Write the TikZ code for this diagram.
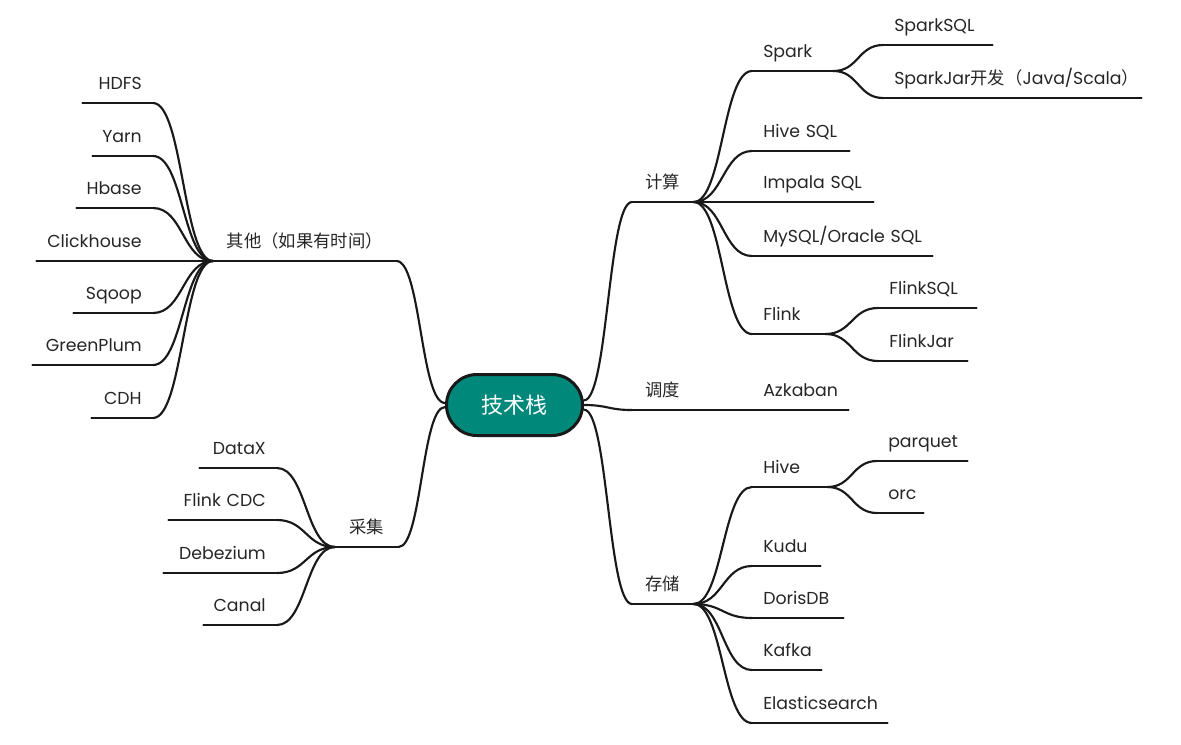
\documentclass[tikz,border=0pt]{standalone}
\usepackage{fontspec}
\setmainfont{Poppins}
\newfontfamily\cjk{Noto Sans CJK SC}
\usepackage{tikz}
\usetikzlibrary{calc}
\definecolor{rootteal}{HTML}{00897B}

\begin{document}
\begin{tikzpicture}[x=0.75pt, y=-0.75pt]
  \tikzset{
    core/.style={
      draw=black!90, line width=2.25pt, fill=rootteal, rounded corners=22.8pt,
      minimum width=102pt, minimum height=45.75pt, inner sep=0pt,
      text=white, font=\cjk\fontsize{16.5}{18}\selectfont
    },
    topic/.style={
      inner xsep=8.25pt, inner ysep=0pt, text height=11pt, text depth=9.75pt,
      font=\fontsize{13}{15}\selectfont, text=black!85
    },
    level/.style={topic, anchor=south west, minimum width=#1},
    rleaf/.style={topic, anchor=south west, text width=#1,
      execute at begin node={\hbox to\hsize\bgroup}, execute at end node={\hss\egroup}},
    lleaf/.style={topic, anchor=south east, text width=#1,
      execute at begin node={\hbox to\hsize\bgroup\hss}, execute at end node={\egroup}},
    branch/.style={draw=black!90, line width=1.6pt, line cap=round},
    link/.style={branch, to path={let \p1=(\tikztostart), \p2=(\tikztotarget) in
      .. controls ({(\x1+\x2)/2},\y1) and ({(\x1+\x2)/2},\y2) .. (\tikztotarget)}}
  }
  \useasboundingbox (0,0) rectangle (1181,744);

  \node[core] (root) at (514.5,405) {技术栈};

  % right side
  \node[level=45.75pt] (jisuan) at (632,202) {\cjk 计算};
  \node[level=45.75pt] (diaodu) at (632,410) {\cjk 调度};
  \node[level=45.75pt] (cunchu) at (632,604) {\cjk 存储};

  \node[rleaf=44.25pt] (spark) at (752,71) {Spark};
  \node[rleaf=65.25pt] (sparksql) at (883,45) {SparkSQL};
  \node[rleaf=177pt] (sparkjar) at (883,98) {SparkJar{\cjk 开发（}Java/Scala{\cjk ）}};
  \node[rleaf=56.25pt] (hivesql) at (752,151) {Hive SQL};
  \node[rleaf=74.25pt] (impala) at (752,202) {Impala SQL};
  \node[rleaf=118.5pt] (mysql) at (752,256) {MySQL/Oracle SQL};
  \node[rleaf=38.25pt] (flink) at (752,334) {Flink};
  \node[rleaf=57pt] (flinksql) at (878,308) {FlinkSQL};
  \node[rleaf=50.25pt] (flinkjar) at (878,361) {FlinkJar};
  \node[rleaf=55.5pt] (azkaban) at (752,410) {Azkaban};
  \node[rleaf=39.75pt] (hive) at (752,487) {Hive};
  \node[rleaf=51pt] (parquet) at (877,461) {parquet};
  \node[rleaf=18pt] (orc) at (877,513) {orc};
  \node[rleaf=34.5pt] (kudu) at (752,566) {Kudu};
  \node[rleaf=51.75pt] (doris) at (752,618) {DorisDB};
  \node[rleaf=35.25pt] (kafka) at (752,670) {Kafka};
  \node[rleaf=84.75pt] (es) at (752,723) {Elasticsearch};

  % left side
  \node[level=137.25pt] (qita) at (213,261) {\cjk 其他（如果有时间）};
  \node[level=47.25pt] (caiji) at (335,547) {\cjk 采集};

  \node[lleaf=36pt] (hdfs) at (153,103) {HDFS};
  \node[lleaf=28.5pt] (yarn) at (153,156) {Yarn};
  \node[lleaf=40.5pt] (hbase) at (153,208) {Hbase};
  \node[lleaf=70.5pt] (ck) at (153,261) {Clickhouse};
  \node[lleaf=42.75pt] (sqoop) at (153,313) {Sqoop};
  \node[lleaf=73.5pt] (gp) at (153,365) {GreenPlum};
  \node[lleaf=29.25pt] (cdh) at (153,418) {CDH};
  \node[lleaf=41.25pt] (datax) at (277,468) {DataX};
  \node[lleaf=64.5pt] (flinkcdc) at (277,520) {Flink CDC};
  \node[lleaf=68.25pt] (debezium) at (277,573) {Debezium};
  \node[lleaf=38.25pt] (canal) at (277,625) {Canal};

  % underlines
  \foreach \n in {jisuan, diaodu, cunchu, spark, sparksql, sparkjar, hivesql,
      impala, mysql, flink, flinksql, flinkjar, azkaban, hive, parquet, orc,
      kudu, doris, kafka, es, qita, caiji, hdfs, yarn, hbase, ck, sqoop, gp,
      cdh, datax, flinkcdc, debezium, canal}
    \draw[branch] (\n.south west) -- (\n.south east);

  % connectors
  \draw[link] ([yshift=3.5pt]root.east) to (jisuan.south west);
  \draw[link] (root.east) to (diaodu.south west);
  \draw[link] ([yshift=-3.5pt]root.east) to (cunchu.south west);
  \draw[link] ([yshift=1.5pt]root.west) to (qita.south east);
  \draw[link] ([yshift=-1.5pt]root.west) to (caiji.south east);

  \foreach \c in {spark, hivesql, impala, mysql, flink}
    \draw[link] (jisuan.south east) to (\c.south west);
  \draw[link] (diaodu.south east) to (azkaban.south west);
  \foreach \c in {hive, kudu, doris, kafka, es}
    \draw[link] (cunchu.south east) to (\c.south west);
  \foreach \c in {sparksql, sparkjar}
    \draw[link] (spark.south east) to (\c.south west);
  \foreach \c in {flinksql, flinkjar}
    \draw[link] (flink.south east) to (\c.south west);
  \foreach \c in {parquet, orc}
    \draw[link] (hive.south east) to (\c.south west);

  \foreach \c in {hdfs, yarn, hbase, ck, sqoop, gp, cdh}
    \draw[link] (qita.south west) to (\c.south east);
  \foreach \c in {datax, flinkcdc, debezium, canal}
    \draw[link] (caiji.south west) to (\c.south east);
\end{tikzpicture}
\end{document}
